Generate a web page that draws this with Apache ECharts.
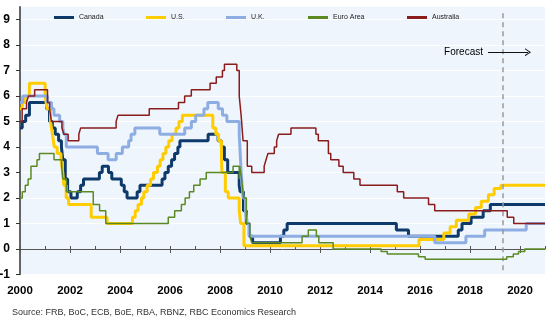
<!DOCTYPE html>
<html><head><meta charset="utf-8">
<script src="https://cdn.jsdelivr.net/npm/echarts@6/dist/echarts.min.js"></script>
<style>html,body{margin:0;padding:0;background:#fff}#c{width:550px;height:327px}</style>
</head><body><div id="c"></div>
<script>
// ---- data ----
const xTickYears = [2000,2002,2004,2006,2008,2010,2012,2014,2016,2018,2020];
const allYears = [2000,2001,2002,2003,2004,2005,2006,2007,2008,2009,2010,2011,2012,2013,2014,2015,2016,2017,2018,2019,2020,2021];
const yTickValues = [-1,0,1,2,3,4,5,6,7,8,9];
const seriesNames = ['Canada','U.S.','U.K.','Euro Area','Australia'];

const canadaDates = ['2000-01-01','2000-02-03','2000-03-23','2000-05-17','2001-01-23','2001-03-06','2001-04-17','2001-05-29','2001-07-17','2001-08-28','2001-09-17','2001-10-23','2001-11-27','2002-01-15','2002-04-16','2002-06-04','2002-07-16','2003-03-04','2003-04-15','2003-07-15','2003-09-03','2004-01-20','2004-03-02','2004-04-13','2004-09-08','2004-10-19','2005-09-07','2005-10-18','2005-12-06','2006-01-24','2006-03-07','2006-04-25','2006-05-24','2007-07-10','2007-12-04','2008-01-22','2008-03-04','2008-04-22','2008-10-08','2008-10-21','2008-12-09','2009-01-20','2009-03-03','2009-04-21','2010-06-01','2010-07-20','2010-09-08','2015-01-21','2015-07-15','2017-07-12','2017-09-06','2018-01-17','2018-07-11','2018-10-24','2021-01-01'];
const canadaRates = [4.75,5.0,5.25,5.75,5.5,5.0,4.75,4.5,4.25,4.0,3.5,2.75,2.25,2.0,2.25,2.5,2.75,3.0,3.25,3.0,2.75,2.5,2.25,2.0,2.25,2.5,2.75,3.0,3.25,3.5,3.75,4.0,4.25,4.5,4.25,4.0,3.5,3.0,2.5,2.25,1.5,1.0,0.5,0.25,0.5,0.75,1.0,0.75,0.5,0.75,1.0,1.25,1.5,1.75,1.75];

const usDates = ['2000-01-01','2000-02-02','2000-03-21','2000-05-16','2001-01-03','2001-01-31','2001-03-20','2001-04-18','2001-05-15','2001-06-27','2001-08-21','2001-09-17','2001-10-02','2001-11-06','2001-12-11','2002-11-06','2003-06-25','2004-06-30','2004-08-10','2004-09-21','2004-11-10','2004-12-14','2005-02-02','2005-03-22','2005-05-03','2005-06-30','2005-08-09','2005-09-20','2005-11-01','2005-12-13','2006-01-31','2006-03-28','2006-05-10','2006-06-29','2007-09-18','2007-10-31','2007-12-11','2008-01-22','2008-01-30','2008-03-18','2008-04-30','2008-10-08','2008-10-29','2008-12-16','2015-12-16','2016-12-14','2017-03-15','2017-06-14','2017-12-13','2018-03-21','2018-06-13','2018-09-26','2018-12-19','2019-03-25','2021-01-01'];
const usRates = [5.5,5.75,6.0,6.5,6.0,5.5,5.0,4.5,4.0,3.75,3.5,3.0,2.5,2.0,1.75,1.25,1.0,1.25,1.5,1.75,2.0,2.25,2.5,2.75,3.0,3.25,3.5,3.75,4.0,4.25,4.5,4.75,5.0,5.25,4.75,4.5,4.25,3.5,3.0,2.25,2.0,1.5,1.0,0.125,0.375,0.625,0.875,1.125,1.375,1.625,1.875,2.125,2.375,2.5,2.5];

const ukDates = ['2000-01-01','2000-02-10','2001-02-08','2001-04-05','2001-05-10','2001-08-02','2001-09-18','2001-10-04','2001-11-08','2003-02-06','2003-07-10','2003-11-06','2004-02-05','2004-05-06','2004-06-10','2004-08-05','2005-08-04','2006-08-03','2006-11-09','2007-01-11','2007-05-10','2007-07-05','2007-12-06','2008-02-07','2008-04-10','2008-10-08','2008-11-06','2008-12-04','2009-01-08','2009-02-05','2009-03-05','2016-08-04','2017-11-02','2018-08-02','2020-04-01','2021-01-01'];
const ukRates = [5.75,6.0,5.75,5.5,5.25,5.0,4.75,4.5,4.0,3.75,3.5,3.75,4.0,4.25,4.5,4.75,4.5,4.75,5.0,5.25,5.5,5.75,5.5,5.25,5.0,4.5,3.0,2.0,1.5,1.0,0.5,0.25,0.5,0.75,1.0,1.0];

const euroDates = ['2000-01-01','2000-02-04','2000-03-17','2000-04-28','2000-06-09','2000-09-06','2000-10-11','2001-05-11','2001-08-31','2001-09-18','2001-11-09','2002-12-06','2003-03-07','2003-06-06','2005-12-06','2006-03-08','2006-06-15','2006-08-09','2006-10-11','2006-12-13','2007-03-14','2007-06-13','2008-07-09','2008-10-08','2008-10-15','2008-11-12','2008-12-10','2009-01-21','2009-03-11','2009-04-08','2011-04-13','2011-07-13','2011-11-09','2011-12-14','2012-07-11','2014-06-11','2014-09-10','2015-12-09','2016-03-16','2019-06-20','2019-09-25','2019-12-10','2020-03-10','2021-01-01'];
const euroRates = [2.0,2.25,2.5,2.75,3.25,3.5,3.75,3.5,3.25,2.75,2.25,1.75,1.5,1.0,1.25,1.5,1.75,2.0,2.25,2.5,2.75,3.0,3.25,2.75,3.25,2.75,2.0,1.0,0.5,0.25,0.5,0.75,0.5,0.25,0.0,-0.1,-0.2,-0.3,-0.4,-0.3,-0.2,-0.1,0.0,0.0];

const ausDates = ['2000-01-01','2000-02-02','2000-04-05','2000-05-03','2000-08-02','2001-02-07','2001-03-07','2001-04-04','2001-09-05','2001-10-03','2001-12-05','2002-05-08','2002-06-05','2003-11-05','2003-12-03','2005-03-02','2006-05-03','2006-08-02','2006-11-08','2007-08-08','2007-11-07','2008-02-06','2008-03-05','2008-09-03','2008-10-08','2008-11-05','2008-12-03','2009-02-04','2009-04-08','2009-10-07','2009-11-04','2009-12-02','2010-03-03','2010-04-07','2010-05-05','2010-11-03','2011-11-02','2011-12-07','2012-05-02','2012-06-06','2012-10-03','2012-12-05','2013-05-08','2013-08-07','2015-02-04','2015-05-06','2016-05-04','2016-08-03','2019-06-28','2019-10-01','2021-01-01'];
const ausRates = [5.0,5.5,5.75,6.0,6.25,5.75,5.5,5.0,4.75,4.5,4.25,4.5,4.75,5.0,5.25,5.5,5.75,6.0,6.25,6.5,6.75,7.0,7.25,7.0,6.0,5.25,4.25,3.25,3.0,3.25,3.5,3.75,4.0,4.25,4.5,4.75,4.5,4.25,3.75,3.5,3.25,3.0,2.75,2.5,2.25,2.0,1.75,1.5,1.25,1.0,1.0];

const forecastStart = 2019.3;
const forecastLabel = 'Forecast';
const sourceText = 'Source: FRB, BoC, ECB, BoE, RBA, RBNZ, RBC Economics Research';

// ---- helpers ----
function toYear(s){const p=s.split('-').map(Number);return p[0]+(p[1]-1)/12+(p[2]-1)/365;}
function pairs(d,r){return d.map((s,i)=>[toYear(s),r[i]]);}

const FONT = 'Liberation Sans, Arial, sans-serif';
const colors = ['#0d3a6b','#ffcc00','#8eaee3','#5b8a23','#8b1c1c'];
const widths = [3,3,3,1.5,1.5];
const datasets = [pairs(canadaDates,canadaRates),pairs(usDates,usRates),pairs(ukDates,ukRates),pairs(euroDates,euroRates),pairs(ausDates,ausRates)];
const legendLeft = [54,146,226,308,407];

const series = seriesNames.map((n,i)=>({
  name:n, type:'line', step:'end', showSymbol:false, symbol:'none',
  data:datasets[i], color:colors[i],
  lineStyle:{color:colors[i],width:widths[i]}, z:2+i, silent:true
}));
series.push({
  name:'annot', type:'line', data:[], silent:true, z:10,
  markLine:{silent:true, animation:false, symbol:'none',
    data:[
      [{coord:[forecastStart,9.25], lineStyle:{color:'#999',width:1.5,type:[5,4]}, label:{show:false}},
       {coord:[forecastStart,-0.85]}],
      [{coord:[2018.72,7.72], symbol:'none', lineStyle:{color:'#111',width:1,type:'solid'},
        label:{show:true, position:'start', distance:5, formatter:forecastLabel, color:'#000', fontSize:10, fontFamily:FONT}},
       {coord:[2020.32,7.72], symbol:'path://M0,10 L5,0 L10,10 L8.6,10 L5,2.8 L1.4,10 Z', symbolSize:[8,6]}]
    ]}
});

const chart = echarts.init(document.getElementById('c'), null, {renderer:'canvas'});
chart.setOption({
  animation:false,
  textStyle:{fontFamily:FONT},
  grid:{left:20,right:5,top:6.75,bottom:52.5,show:true,backgroundColor:'#eff5fc',borderWidth:0,containLabel:false,outerBoundsMode:'none'},
  legend: seriesNames.map((n,i)=>({data:[n],left:legendLeft[i],top:14,itemWidth:20,itemHeight:3,icon:'rect',padding:0,
    textStyle:{fontSize:7,color:'#222',fontFamily:FONT}})),
  xAxis:[
    {type:'value',min:2000,max:2021,position:'bottom',
     axisLine:{show:true,onZero:true,onZeroAxisIndex:0,lineStyle:{color:'#555',width:1}},
     axisTick:{show:true,customValues:allYears,inside:true,length:3,lineStyle:{color:'#555',width:1}},
     axisLabel:{customValues:xTickYears,margin:10,fontSize:11.5,fontWeight:'bold',color:'#000',fontFamily:FONT,formatter:v=>String(v)},
     splitLine:{show:false}},
    {type:'value',min:2000,max:2021,position:'top',
     axisLine:{show:false,onZero:true,onZeroAxisIndex:0},
     axisTick:{show:true,customValues:xTickYears,inside:true,length:4,lineStyle:{color:'#555',width:1}},
     axisLabel:{show:false},splitLine:{show:false}}
  ],
  yAxis:{type:'value',min:-1,max:9.5,interval:1,
    axisLine:{show:true,onZero:false,lineStyle:{color:'#333',width:1.5}},
    axisTick:{show:true,customValues:yTickValues,length:4,lineStyle:{color:'#333',width:1}},
    axisLabel:{customValues:yTickValues,margin:10,fontSize:12,fontWeight:'bold',color:'#000',fontFamily:FONT},
    splitLine:{show:true,lineStyle:{color:'#ffffff',width:1}}},
  graphic:[{type:'text',left:12,top:308,silent:true,style:{text:sourceText,fontSize:9,fill:'#333',fontFamily:FONT}}],
  series:series
});
</script></body></html>
